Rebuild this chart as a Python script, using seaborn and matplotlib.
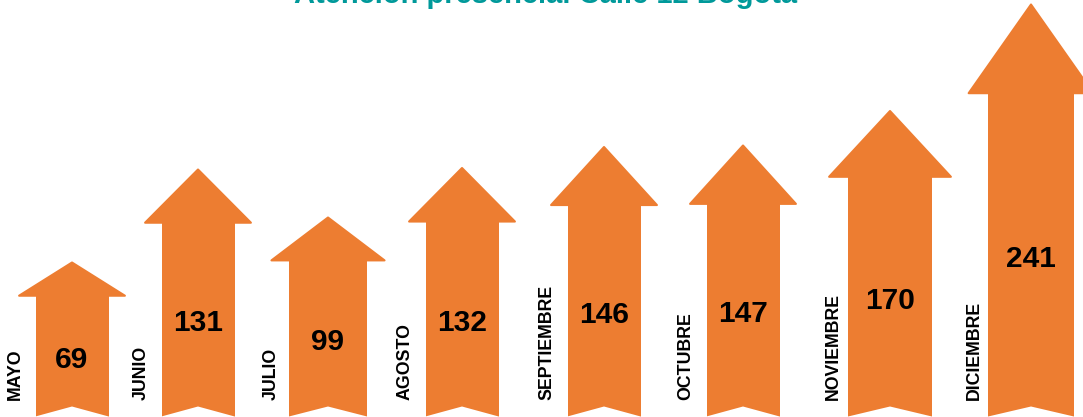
import matplotlib
matplotlib.use("Agg")
import matplotlib.pyplot as plt
import seaborn as sns
import pandas as pd
from matplotlib.patches import Polygon

# ---- data ----
months = ["MAYO", "JUNIO", "JULIO", "AGOSTO", "SEPTIEMBRE", "OCTUBRE", "NOVIEMBRE", "DICIEMBRE"]
values = [69, 131, 99, 132, 146, 147, 170, 241]
title = "Atención presencial Calle 12 Bogotá"

# ---- layout / style (pixel units on the x axis) ----
ORANGE = "#ED7D31"
TEAL = "#00999A"
BASE = -34            # value level at the bottom edge of the figure
HEAD_FRAC = 0.215     # share of arrow length taken by the head
LABEL_FRAC = 0.39     # vertical position of the value label along the arrow
arrow_centers = [72, 198, 328, 462, 604, 743, 890, 1031]
shaft_widths = [73, 73, 78, 73, 73, 73, 84, 86]
HEAD_RATIO = 1.45
PX_PER_UNIT = 1.5
LABEL_OFFSET = 57

sns.set_theme(style="white")
plt.rcParams["font.family"] = ["Liberation Sans", "DejaVu Sans"]

fig = plt.figure(figsize=(10.83, 4.17), dpi=100)
ax = fig.add_axes([0, 0, 1, 1])

df = pd.DataFrame({"month": months, "value": values})
df["shaft"] = (df["value"] - BASE) * (1 - HEAD_FRAC)

sns.barplot(data=df, x="month", y="shaft", color=ORANGE, saturation=1,
            width=0.5, bottom=BASE, ax=ax, linewidth=0)

# place the shafts at the infographic's positions and widths
for patch, cx, w in zip(ax.patches, arrow_centers, shaft_widths):
    patch.set_x(cx - w / 2)
    patch.set_width(w)

notch = 7
for cx, v, w, m in zip(arrow_centers, values, shaft_widths, months):
    top = BASE + (v - BASE) * (1 - HEAD_FRAC)
    hw = w * HEAD_RATIO / 2
    ax.add_patch(Polygon([(cx - hw, top), (cx, v), (cx + hw, top)], closed=True,
                         fc=ORANGE, ec=ORANGE, lw=1.5, joinstyle="round", zorder=3))
    ax.add_patch(Polygon([(cx - w / 2 - 2, BASE - 2), (cx - w / 2 - 2, BASE),
                          (cx, BASE + notch), (cx + w / 2 + 2, BASE),
                          (cx + w / 2 + 2, BASE - 2)], closed=True,
                         fc="white", ec="none", zorder=4))
    ycenter = BASE + LABEL_FRAC * (v - BASE)
    ax.text(cx, ycenter - 11 / PX_PER_UNIT, str(v), ha="center", va="baseline",
            fontsize=21.5, fontweight="bold", color="black", zorder=5)
    ax.text(cx - LABEL_OFFSET, BASE + 17 / PX_PER_UNIT, m, rotation=90,
            ha="center", va="bottom", fontsize=12.8, fontweight="bold",
            color="black", zorder=5)

ax.set_xlim(0, 1083)
ax.set_ylim(BASE, BASE + 417 / PX_PER_UNIT)
ax.axis("off")

fig.text(546 / 1083, 1 - 3 / 417, title, ha="center", va="baseline",
         fontsize=21, fontweight="bold", color=TEAL)

fig.savefig("out.png", dpi=100, facecolor="white")
